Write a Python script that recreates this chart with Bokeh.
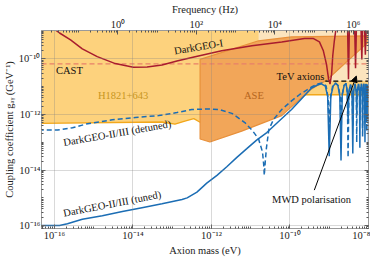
import numpy as np
from bokeh.plotting import figure
from bokeh.models import (Range1d, LogAxis, LogScale, FixedTicker, CustomJSTickFormatter,
                          Label, Arrow, NormalHead)
from bokeh.embed import file_html
from bokeh.resources import INLINE

# ---------------- data (log10 of axion mass in eV, log10 of coupling in GeV^-1) -------------
# DarkGEO-I sensitivity curve
dg1_logm = [-16.10, -15.87, -15.59, -15.29, -14.91, -14.45, -13.99, -13.64, -13.26, -12.88,
            -12.50, -11.74, -10.97, -10.21, -9.63, -9.40, -9.25, -9.15, -9.07, -9.02, -8.98,
            -8.94, -8.91, -8.87, -8.82,
            -8.535, -8.51, -8.485, -8.355, -8.33, -8.305, -8.195, -8.17, -8.145,
            -8.105, -8.08, -8.055, -8.0]
dg1_logg = [-8.83, -9.07, -9.32, -9.64, -9.92, -10.17, -10.30, -10.29, -10.22, -10.08,
            -9.95, -9.71, -9.53, -9.39, -9.27, -9.27, -9.39, -9.71, -10.20, -10.69, -10.91,
            -10.55, -9.88, -9.35, -8.83,
            -8.7, -10.73, -8.7, -8.7, -10.34, -8.7, -8.7, -10.02, -8.7,
            -8.7, -9.85, -8.7, -8.7]

# DarkGEO-II/III (tuned)
tuned_logm = [-16.40, -15.87, -15.67, -15.29, -14.78, -14.27, -13.77, -13.26, -12.75, -12.62,
              -12.37, -12.12, -11.86, -11.61, -11.36, -11.10, -10.85, -10.59, -10.29, -9.96,
              -9.71, -9.45, -9.30, -9.20, -9.10, -9.04, -9.00, -8.96, -8.90, -8.84, -8.78,
              -8.73, -8.70, -8.67, -8.62, -8.57, -8.54, -8.52, -8.50, -8.46, -8.42, -8.40,
              -8.38, -8.34, -8.31, -8.30, -8.29, -8.255, -8.23, -8.22, -8.21, -8.18, -8.16,
              -8.15, -8.14, -8.12, -8.10, -8.09, -8.08, -8.065, -8.05, -8.045, -8.04, -8.02,
              -8.005, -8.0]
tuned_logg = [-15.99, -15.99, -15.93, -15.77, -15.64, -15.49, -15.35, -15.21, -15.06, -15.00,
              -14.79, -14.47, -14.19, -13.88, -13.55, -13.23, -12.92, -12.65, -12.25, -11.82,
              -11.44, -11.05, -10.94, -10.90, -10.98, -11.35, -13.50, -11.35, -10.98, -10.88, -10.95,
              -11.35, -13.65, -11.30, -10.95, -10.90, -11.20, -12.30, -11.20, -10.92, -11.15, -13.40,
              -11.15, -10.90, -11.20, -12.00, -11.20, -10.90, -11.20, -13.20, -11.20, -10.90, -11.20,
              -12.50, -11.20, -10.90, -11.20, -13.00, -11.20, -10.90, -11.20, -12.10, -11.20, -10.92,
              -11.30, -13.20]

# DarkGEO-II/III (detuned)
detuned_logm = [-16.40, -15.92, -15.54, -15.21, -14.53, -13.94, -13.34, -12.88, -12.50, -12.07,
                -11.81, -11.48, -11.15, -10.95, -10.80, -10.70, -10.67, -10.655, -10.63, -10.60,
                -10.54, -10.42, -10.21, -9.96, -9.76, -9.45, -9.30, -9.18, -9.08, -9.03, -9.00,
                -8.97, -8.91, -8.84, -8.77, -8.72, -8.70, -8.68, -8.62, -8.57, -8.54, -8.52,
                -8.50, -8.46, -8.42, -8.40, -8.38, -8.34, -8.31, -8.30, -8.29, -8.255, -8.23,
                -8.22, -8.21, -8.18, -8.16, -8.15, -8.14, -8.12, -8.10, -8.09, -8.08, -8.065,
                -8.05, -8.045, -8.04, -8.02, -8.0]
detuned_logg = [-12.56, -12.56, -12.48, -12.35, -12.19, -12.11, -12.04, -11.93, -11.82, -11.80,
                -11.82, -11.96, -12.29, -12.59, -12.88, -13.35, -13.80, -14.19, -13.70, -13.20,
                -12.55, -12.18, -11.82, -11.51, -11.29, -11.01, -10.90, -10.87, -10.97, -11.40, -12.60,
                -11.40, -10.95, -10.87, -10.97, -11.35, -12.90, -11.35, -10.95, -10.88, -11.20, -13.55,
                -11.20, -10.92, -11.15, -12.40, -11.15, -10.90, -11.20, -13.00, -11.20, -10.90, -11.20,
                -12.20, -11.20, -10.90, -11.20, -12.80, -11.20, -10.90, -11.20, -12.30, -11.20, -10.90,
                -11.20, -12.60, -11.20, -10.95, -11.40]

# H1821+643 excluded region: lower boundary
h1821_logm = [-16.40, -13.26, -12.93, -12.70, -12.45, -12.29, -9.60, -8.0]
h1821_logg = [-12.32, -12.27, -12.35, -12.25, -12.15, -12.28, -11.29, -11.29]

# ASE excluded region: outline
ase_logm = [-12.29, -10.80, -9.96, -8.0, -8.0, -9.07, -9.45, -10.21, -11.23, -12.04, -12.29]
ase_logg = [-10.02, -9.35, -9.21, -9.17, -9.39, -10.77, -11.08, -12.04, -12.60, -12.99, -12.88]

# pale upper-right excluded region (edges)
pale_logm = [-10.80, -8.0]
pale_logg_low = -10.80

# CAST limit
cast_g = 6.6e-11
# TeV axions hint line
tev_logm = [-9.10, -8.0]
tev_logg = -10.80

x_major = [1e-16, 1e-14, 1e-12, 1e-10, 1e-8]
y_major = [1e-16, 1e-14, 1e-12, 1e-10]
f_major = [1e0, 1e2, 1e4, 1e6]
EV_TO_HZ = 2.418e14

# ---------------- helpers ----------------
def p10(a):
    return list(10.0 ** np.asarray(a, dtype=float))

def minor(lo, hi):
    return [m * 10.0 ** k for k in range(lo, hi) for m in range(2, 10)] + [10.0 ** k for k in range(lo, hi + 1)]

FONT = "Liberation Serif"
RED = "#A81C2E"
BLUE = "#1B6DB4"

xlo, xhi = 10 ** -16.33, 1e-8
ylo, yhi = 10 ** -16.1, 10 ** -8.98
TOP = 1e-8  # beyond the visible range, closes fills

p = figure(frame_width=327, frame_height=198, x_axis_type="log", y_axis_type="log",
           x_range=Range1d(xlo, xhi), y_range=Range1d(ylo, yhi),
           output_backend="svg", toolbar_location=None,
           min_border_left=0, min_border_right=2, min_border_top=0, min_border_bottom=0,
           background_fill_color="white")
p.outline_line_color = "#9a9a9a"

p.extra_x_ranges = {"freq": Range1d(xlo * EV_TO_HZ, xhi * EV_TO_HZ)}
p.extra_x_scales = {"freq": LogScale()}

sup = """
const e = Math.round(Math.log10(tick));
const m = {"-":"\u207b","0":"\u2070","1":"\u00b9","2":"\u00b2","3":"\u00b3","4":"\u2074",
           "5":"\u2075","6":"\u2076","7":"\u2077","8":"\u2078","9":"\u2079"};
return "10" + String(e).split("").map(c => m[c]).join("");
"""

# ---------------- regions ----------------
hx = p10(h1821_logm)
hy = p10(h1821_logg)
p.patch(hx + [hx[-1], hx[0]], hy + [TOP, TOP], fill_color="#FDD27D", line_color=None)
p.line(hx, hy, line_color="#F2A71B", line_width=1.3)

px_ = p10(pale_logm)
p.patch([px_[0], px_[1], px_[1], px_[0]], [TOP, TOP, 10 ** pale_logg_low, 10 ** pale_logg_low],
        fill_color="#FBE4BE", line_color=None)

p.patch(p10(ase_logm), p10(ase_logg), fill_color="#F2A659", line_color="#E8903A", line_width=1.2)

# ---------------- lines ----------------
p.line([xlo, xhi], [cast_g, cast_g], line_color="#E8806A", line_width=1.2, line_dash="5 3")
p.line(p10(tev_logm), [10 ** tev_logg] * 2, line_color="black", line_width=1.2, line_dash="5 3")
p.line(p10(dg1_logm), p10(dg1_logg), line_color=RED, line_width=1.5)
p.line(p10(detuned_logm), p10(detuned_logg), line_color=BLUE, line_width=1.5, line_dash="5 3")
p.line(p10(tuned_logm), p10(tuned_logg), line_color=BLUE, line_width=1.5)

# ---------------- axes ----------------
xt = FixedTicker(ticks=x_major, minor_ticks=minor(-17, -8))
yt = FixedTicker(ticks=y_major, minor_ticks=minor(-17, -8))
ft = FixedTicker(ticks=f_major, minor_ticks=minor(-2, 7))

bottom = p.below[0]
left = p.left[0]
bottom.ticker = xt
left.ticker = yt
bottom.formatter = CustomJSTickFormatter(code=sup)
left.formatter = CustomJSTickFormatter(code=sup)
bottom.axis_label = "Axion mass (eV)"
left.axis_label = "Coupling coefficient g\u2090\u1d67 (GeV\u207b\u00b9)"

top = LogAxis(x_range_name="freq", ticker=ft, formatter=CustomJSTickFormatter(code=sup),
              axis_label="Frequency (Hz)")
p.add_layout(top, "above")
right = LogAxis(ticker=yt, formatter=CustomJSTickFormatter(code="return '';"))
p.add_layout(right, "right")

for ax in [bottom, left, top, right]:
    ax.major_tick_in = 4
    ax.major_tick_out = 0
    ax.minor_tick_in = 2
    ax.minor_tick_out = 0
    ax.axis_line_color = "#9a9a9a"
    ax.major_tick_line_color = "#555555"
    ax.minor_tick_line_color = "#555555"
    ax.major_label_text_font = FONT
    ax.major_label_text_font_size = "10.5px"
    ax.major_label_text_color = "#222222"
    ax.major_label_standoff = 1
    ax.axis_label_text_font = FONT
    ax.axis_label_text_font_size = "10.5px"
    ax.axis_label_text_font_style = "normal"
    ax.axis_label_text_color = "#222222"
    ax.axis_label_standoff = 1
right.major_label_standoff = 0

p.xgrid.ticker = xt
p.ygrid.ticker = yt
p.grid.grid_line_color = "#808080"
p.grid.grid_line_alpha = 0.3
p.grid.level = "guide"

# ---------------- labels ----------------
def lab(text, lm, lg, angle=0, color="#111111", size="10.5px"):
    p.add_layout(Label(x=10 ** lm, y=10 ** lg, text=text, angle=angle, angle_units="deg",
                       text_align="center", text_baseline="middle", text_font=FONT,
                       text_font_size=size, text_color=color))

lab("DarkGEO-I", -12.33, -9.57, angle=9.5, color="#111111")
lab("CAST", -15.62, -10.41)
lab("H1821+643", -14.25, -11.30, color="#C8961E")
lab("ASE", -10.92, -11.33, color="#B5651D")
lab("TeV axions", -9.73, -10.62)
lab("DarkGEO-II/III (detuned)", -14.40, -12.67, angle=10)
lab("DarkGEO-II/III (tuned)", -14.53, -15.21, angle=11)
lab("MWD polarisation", -9.45, -15.06)

p.add_layout(Arrow(end=NormalHead(size=6, fill_color="black", line_color="black"),
                   x_start=10 ** -9.38, y_start=10 ** -14.72,
                   x_end=10 ** -8.31, y_end=10 ** -10.62,
                   line_color="black", line_width=1))

open("out.html", "w").write(file_html(p, INLINE))
